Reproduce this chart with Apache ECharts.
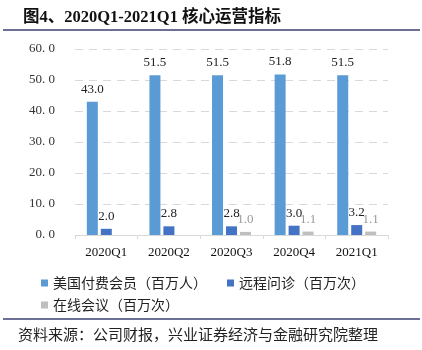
<!DOCTYPE html>
<html><head><meta charset="utf-8">
<script src="https://cdn.jsdelivr.net/npm/echarts@6/dist/echarts.min.js"></script>
<style>html,body{margin:0;padding:0;background:#fff}#c{width:422px;height:350px}</style>
</head><body><div id="c"></div>
<script>
const categories = ['2020Q1','2020Q2','2020Q3','2020Q4','2021Q1'];
const members = [43.0, 51.5, 51.5, 51.8, 51.5];
const telehealth = [2.0, 2.8, 2.8, 3.0, 3.2];
const meetings = [null, null, 1.0, 1.1, 1.1];
const seriesNames = ['美国付费会员（百万人）','远程问诊（百万次）','在线会议（百万次）'];
const titleText = '图4、2020Q1-2021Q1 核心运营指标';
const sourceText = '资料来源：公司财报，兴业证券经济与金融研究院整理';

const serif = "'Liberation Serif','Noto Sans CJK SC',serif";
const cjk = "'Noto Sans CJK SC',sans-serif";
const chart = echarts.init(document.getElementById('c'));
const lbl = (color) => ({show:true, position:'top', distance:6, color:color, fontFamily:serif, fontSize:13,
  formatter:p => p.value==null ? '' : Number(p.value).toFixed(1)});
chart.setOption({
  animation:false,
  title:{text:titleText, left:18, top:4, textStyle:{fontFamily:serif, fontSize:16.5, fontWeight:'bold', color:'#111'}},
  graphic:[
    {type:'line', shape:{x1:3,y1:30,x2:420,y2:30}, style:{stroke:'#3b4070', lineWidth:1.5}},
    {type:'line', shape:{x1:3,y1:319,x2:420,y2:319}, style:{stroke:'#3b4070', lineWidth:1.5}},
    {type:'text', left:18, top:327, style:{text:sourceText, fontFamily:cjk, fontSize:15, fill:'#222'}}
  ],
  grid:{left:75, right:34, top:49, bottom:115},
  legend:[
    {data:[seriesNames[0],seriesNames[1]], left:36, top:271, itemWidth:7, itemHeight:7, itemGap:20,
     icon:'rect', textStyle:{fontFamily:cjk, fontSize:14, color:'#222'}},
    {data:[seriesNames[2]], left:36, top:293, itemWidth:7, itemHeight:7,
     icon:'rect', textStyle:{fontFamily:cjk, fontSize:14, color:'#222'}}
  ],
  xAxis:{type:'category', data:categories,
    axisLine:{lineStyle:{color:'#d9d9d9'}},
    axisTick:{show:true, length:4, lineStyle:{color:'#d9d9d9'}},
    axisLabel:{color:'#111', fontFamily:serif, fontSize:13, margin:11}},
  yAxis:{type:'value', min:0, max:60, interval:10,
    axisLine:{show:false}, axisTick:{show:false},
    axisLabel:{color:'#333', fontFamily:serif, fontSize:13, margin:20,
      formatter:v => v.toFixed(1).replace('.', '. ')},
    splitLine:{lineStyle:{color:'#d9d9d9', type:[8,6], width:1}}},
  series:[
    {name:seriesNames[0], type:'bar', data:members, barWidth:11, barGap:'27%',
     itemStyle:{color:'#5b9bd5'}, label:lbl('#222')},
    {name:seriesNames[1], type:'bar', data:telehealth, barWidth:11, barGap:'27%',
     itemStyle:{color:'#4472c4'}, label:lbl('#222')},
    {name:seriesNames[2], type:'bar', data:meetings, barWidth:11, barGap:'27%',
     itemStyle:{color:'#bfbfbf'}, label:lbl('#999')}
  ]
});
</script></body></html>
